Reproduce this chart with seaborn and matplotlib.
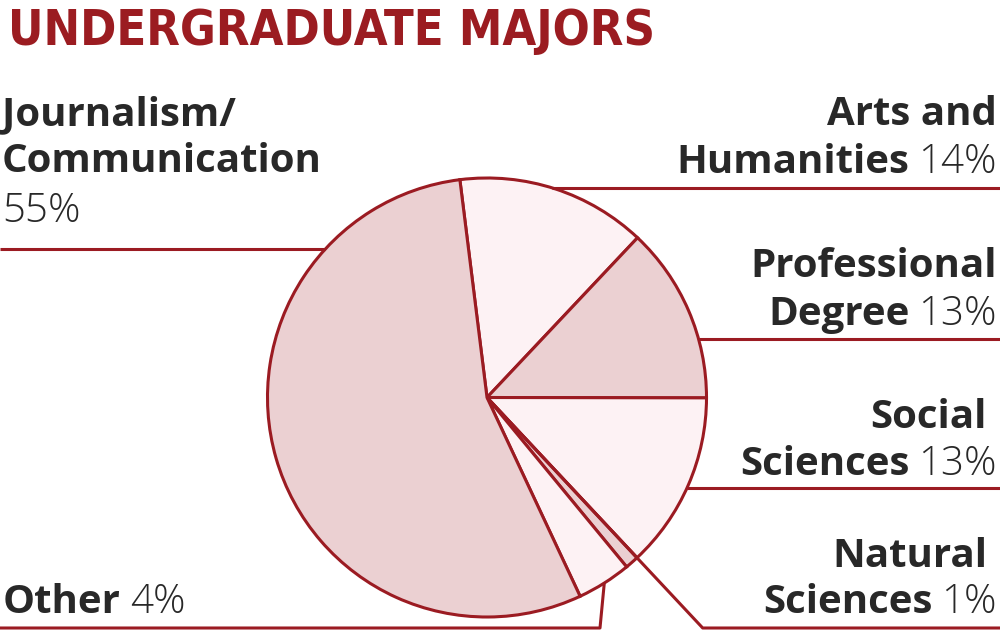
import matplotlib.pyplot as plt
import seaborn as sns
import numpy as np

# datos del grafico (orden horario desde arriba)
majors = ["Arts and Humanities", "Professional Degree", "Social Sciences",
          "Natural Sciences", "Other", "Journalism/Communication"]
shares = [14, 13, 13, 1, 4, 55]
pct_labels = ["14%", "13%", "13%", "1%", "4%", "55%"]

RED = "#9b1b22"
DARK = "#282828"
LIGHT_FILL = "#ebd0d2"
PALE_FILL = "#fdf2f4"
fills = [PALE_FILL, LIGHT_FILL, PALE_FILL, LIGHT_FILL, PALE_FILL, LIGHT_FILL]

sns.set_theme(style="white")
plt.rcParams['font.family'] = ['Open Sans', 'DejaVu Sans']

W, H = 1000, 632
fig = plt.figure(figsize=(10, 6.32), dpi=100)
ax = fig.add_axes([0, 0, 1, 1])

cx, cy, r = 487, H - 397.5, 219.5
wedges, _ = ax.pie(shares, colors=fills, startangle=97.1, counterclock=False,
                   center=(cx, cy), radius=r,
                   wedgeprops=dict(edgecolor=RED, linewidth=2.2))
ax.set_xlim(0, W)
ax.set_ylim(0, H)
ax.set_aspect('equal')
ax.axis('off')


def py(y):
    # pixel (desde arriba) -> coordenada de datos
    return H - y


def circle_x(ypix, side):
    dy = py(ypix) - cy
    return cx + side * np.sqrt(r ** 2 - dy ** 2)


def line(xs, ys):
    ax.plot(xs, [py(v) for v in ys], color=RED, lw=2.2, solid_capstyle='butt')


# lineas guia
line([0, circle_x(249, -1)], [249, 249])          # Journalism
line([circle_x(188, 1), W], [188, 188])            # Arts
line([circle_x(339, 1), W], [339, 339])            # Professional
line([circle_x(488, 1), W], [488, 488])            # Social

# Natural: sigue el borde del sector hasta abajo
t = np.deg2rad(wedges[2].theta1)
y_end = 628
dist = (cy - py(y_end)) / -np.sin(t)
x_end = cx + dist * np.cos(t)
line([cx, x_end, W], [397.5, y_end, y_end])

# Other: desde el punto medio del sector
w = wedges[4]
tm = np.deg2rad((w.theta1 + w.theta2) / 2)
ox, oy = cx + r * np.cos(tm), cy + r * np.sin(tm)
line([ox, 600, 0], [H - oy, y_end, y_end])

# titulo
fig.text(8 / W, 1 - 45 / H, "UNDERGRADUATE MAJORS", color="#9b1c21",
         fontsize=35, fontweight='bold', fontstretch='condensed',
         family=['DejaVu Sans'], va='baseline', ha='left')

FS = 29
fig.canvas.draw()
renderer = fig.canvas.get_renderer()


def bold(x, ypix, s, ha):
    return ax.text(x, py(ypix), s, fontsize=FS, fontweight='bold', color=DARK,
                   ha=ha, va='baseline')


def pct(x, ypix, s, ha):
    return ax.text(x, py(ypix), s, fontsize=FS, fontweight='light', color=DARK,
                   ha=ha, va='baseline')


def right_pair(ypix, b, p, xr=997):
    tp = pct(xr, ypix, p, 'right')
    bb = tp.get_window_extent(renderer)
    bold(bb.x0 - 9, ypix, b, 'right')


# Journalism
bold(2, 125, "Journalism/", 'left')
bold(2, 172, "Communication", 'left')
pct(2, 222, pct_labels[5], 'left')

# derecha
bold(997, 125, "Arts and", 'right')
right_pair(173, "Humanities", pct_labels[0])
bold(997, 277, "Professional", 'right')
right_pair(325, "Degree", pct_labels[1])
bold(987, 428, "Social", 'right')
right_pair(475, "Sciences", pct_labels[2])
bold(987, 567, "Natural", 'right')
right_pair(613, "Sciences", pct_labels[3])

# Other
to = bold(3, 613, "Other", 'left')
bb = to.get_window_extent(renderer)
pct(bb.x1 + 9, 613, pct_labels[4], 'left')

plt.savefig("out.png", dpi=100)
plt.close()
